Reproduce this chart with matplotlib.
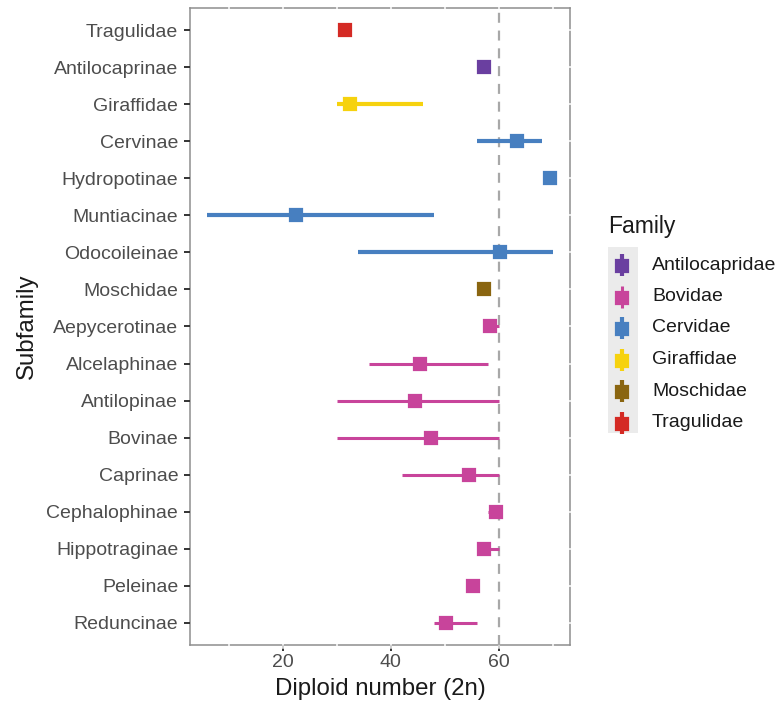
import matplotlib
matplotlib.use("Agg")
import matplotlib.pyplot as plt
from matplotlib.patches import Rectangle

plt.rcParams["font.family"] = ["Liberation Sans", "DejaVu Sans"]

# Diploid numbers (2n) per subfamily: point estimate and observed range
subfamilies = [
    "Tragulidae", "Antilocaprinae", "Giraffidae", "Cervinae", "Hydropotinae",
    "Muntiacinae", "Odocoileinae", "Moschidae", "Aepycerotinae", "Alcelaphinae",
    "Antilopinae", "Bovinae", "Caprinae", "Cephalophinae", "Hippotraginae",
    "Peleinae", "Reduncinae",
]
families = [
    "Tragulidae", "Antilocapridae", "Giraffidae", "Cervidae", "Cervidae",
    "Cervidae", "Cervidae", "Moschidae", "Bovidae", "Bovidae",
    "Bovidae", "Bovidae", "Bovidae", "Bovidae", "Bovidae",
    "Bovidae", "Bovidae",
]
diploid_mid = [31.5, 57.3, 32.4, 63.4, 69.5, 22.4, 60.3, 57.3, 58.3, 45.4,
               44.5, 47.4, 54.4, 59.4, 57.3, 55.2, 50.3]
diploid_min = [31.5, 57.3, 30.0, 56.0, 69.5, 6.0, 34.0, 57.3, 57.8, 36.0,
               30.0, 30.0, 42.0, 58.0, 56.0, 55.2, 48.0]
diploid_max = [31.5, 57.3, 46.0, 68.0, 69.5, 48.0, 70.0, 57.3, 60.0, 58.0,
               60.0, 60.0, 60.0, 60.0, 60.0, 55.2, 56.0]
reference_2n = 60

family_order = ["Antilocapridae", "Bovidae", "Cervidae", "Giraffidae",
                "Moschidae", "Tragulidae"]
family_colors = {
    "Antilocapridae": "#6A3FA0",
    "Bovidae": "#C8449B",
    "Cervidae": "#477FC0",
    "Giraffidae": "#F6D20E",
    "Moschidae": "#8A6510",
    "Tragulidae": "#D42A24",
}
range_width = {"Bovidae": 2.2}

fig = plt.figure(figsize=(7.79, 7.07), dpi=100)
ax = fig.add_axes([0.2439, 0.0877, 0.4878, 0.901])

n = len(subfamilies)
ypos = list(range(n))
ax.set_xlim(2.8, 73.2)
ax.set_ylim(n - 1 + 0.6, -0.6)

for sp in ax.spines.values():
    sp.set_color("#8E8E8E")
    sp.set_linewidth(1.1)
    sp.set_zorder(1.5)

# white grid lines, faintly breaking the panel border
for gx in range(10, 80, 10):
    ax.axvline(gx, ymin=-0.004, ymax=1.004, color="white", lw=1.1,
               clip_on=False, zorder=2)
for gy in ypos:
    ax.plot([0.993, 1.006], [gy, gy], transform=ax.get_yaxis_transform(),
            color="white", lw=1.1, clip_on=False, zorder=2)

ax.axvline(reference_2n, color="#A8A8A8", lw=1.6, ls=(0, (4.5, 3.5)), zorder=2.5)

for y, fam, mid, lo, hi in zip(ypos, families, diploid_mid, diploid_min, diploid_max):
    c = family_colors[fam]
    ax.plot([lo, hi], [y, y], color=c, lw=range_width.get(fam, 3.0),
            solid_capstyle="butt", zorder=3)
    ax.plot([mid], [y], marker="s", ms=9.0, mfc=c, mec=c, mew=1.6,
            ls="none", zorder=4)

ax.set_yticks(ypos)
ax.set_yticklabels(subfamilies)
ax.set_xticks([20, 40, 60])
ax.tick_params(axis="both", colors="#333333", labelcolor="#4D4D4D",
               labelsize=14, length=4, width=1.4)
ax.tick_params(axis="y", pad=4.5)
ax.tick_params(axis="x", pad=2.5)

ax.set_xlabel("Diploid number (2n)", fontsize=17.3, color="#1A1A1A", labelpad=5)
ax.set_ylabel("Subfamily", fontsize=17.3, color="#1A1A1A", labelpad=6)

# legend drawn in its own axes
lg = fig.add_axes([0, 0, 1, 1], facecolor="none")
lg.set_xlim(0, 779)
lg.set_ylim(707, 0)
lg.axis("off")
lg.text(608, 226, "Family", fontsize=16.5, color="#1A1A1A", va="center", ha="left")
lg.add_patch(Rectangle((608, 247), 30, 186, facecolor="#EBEBEB", edgecolor="none"))
key_y = [265, 296.5, 328, 359.5, 391, 422.5]
for fam, ky in zip(family_order, key_y):
    c = family_colors[fam]
    lg.plot([622, 622], [ky - 11, ky + 11], color=c, lw=range_width.get(fam, 3.0),
            solid_capstyle="butt")
    lg.plot([622], [ky + 1], marker="s", ms=9.0, mfc=c, mec=c, mew=1.6)
    lg.text(652, ky, fam, fontsize=14, color="#1A1A1A", va="center", ha="left")

fig.savefig("out.png", dpi=100)
